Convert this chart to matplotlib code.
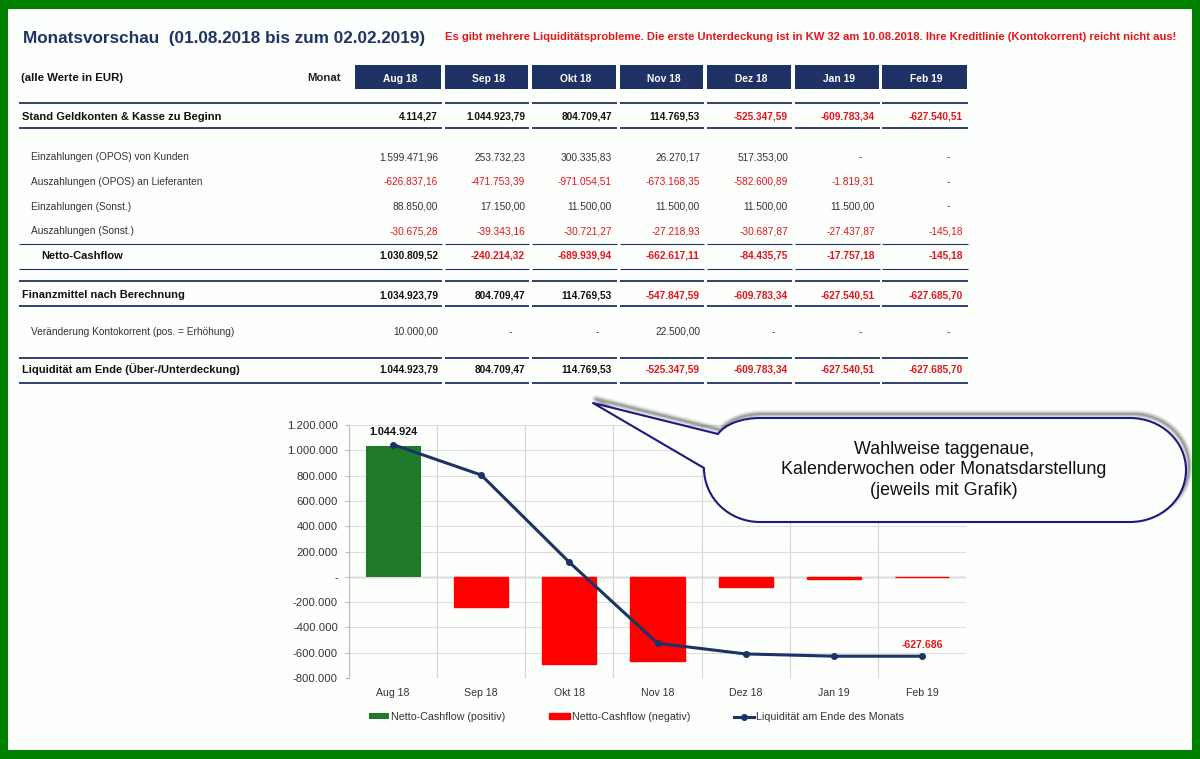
import matplotlib
matplotlib.use("Agg")
import matplotlib.pyplot as plt
from matplotlib.patches import Rectangle, PathPatch
from matplotlib.path import Path
from matplotlib.ticker import FuncFormatter

plt.rcParams['font.family'] = ['Liberation Sans', 'DejaVu Sans']

NAVY = '#1F3265'
RED = '#E8141C'
GREEN = '#008000'
NAN = float('nan')

months = ['Aug 18', 'Sep 18', 'Okt 18', 'Nov 18', 'Dez 18', 'Jan 19', 'Feb 19']
title = 'Monatsvorschau  (01.08.2018 bis zum 02.02.2019)'
warning = ('Es gibt mehrere Liquiditätsprobleme. Die erste Unterdeckung ist in KW 32 am 10.08.2018. '
           'Ihre Kreditlinie (Kontokorrent) reicht nicht aus!')
callout_text = 'Wahlweise taggenaue,\nKalenderwochen oder Monatsdarstellung\n(jeweils mit Grafik)'

row_labels = ['Stand Geldkonten & Kasse zu Beginn', 'Einzahlungen (OPOS) von Kunden',
              'Auszahlungen (OPOS) an Lieferanten', 'Einzahlungen (Sonst.)', 'Auszahlungen (Sonst.)',
              'Netto-Cashflow', 'Finanzmittel nach Berechnung', 'Veränderung Kontokorrent (pos. = Erhöhung)',
              'Liquidität am Ende (Über-/Unterdeckung)']
stand = ['4.114,27', '1.044.923,79', '804.709,47', '114.769,53', '-525.347,59', '-609.783,34', '-627.540,51']
einz_opos = ['1.599.471,96', '253.732,23', '300.335,83', '26.270,17', '517.353,00', '-', '-']
ausz_opos = ['-626.837,16', '-471.753,39', '-971.054,51', '-673.168,35', '-582.600,89', '-1.819,31', '-']
einz_sonst = ['88.850,00', '17.150,00', '11.500,00', '11.500,00', '11.500,00', '11.500,00', '-']
ausz_sonst = ['-30.675,28', '-39.343,16', '-30.721,27', '-27.218,93', '-30.687,87', '-27.437,87', '-145,18']
netto = ['1.030.809,52', '-240.214,32', '-689.939,94', '-662.617,11', '-84.435,75', '-17.757,18', '-145,18']
finanz = ['1.034.923,79', '804.709,47', '114.769,53', '-547.847,59', '-609.783,34', '-627.540,51', '-627.685,70']
kk = ['10.000,00', '-', '-', '22.500,00', '-', '-', '-']
ende = ['1.044.923,79', '804.709,47', '114.769,53', '-525.347,59', '-609.783,34', '-627.540,51', '-627.685,70']
rows = [stand, einz_opos, ausz_opos, einz_sonst, ausz_sonst, netto, finanz, kk, ende]

cf_pos = [1030809.52, NAN, NAN, NAN, NAN, NAN, NAN]
cf_neg = [NAN, -240214.32, -689939.94, -662617.11, -84435.75, -17757.18, -145.18]
liquiditaet = [1044923.79, 804709.47, 114769.53, -525347.59, -609783.34, -627540.51, -627685.70]

W, H = 1200, 759
fig = plt.figure(figsize=(12, 7.59), dpi=100, facecolor='#FCFFFC')

bg = fig.add_axes([0, 0, 1, 1], zorder=0)
bg.set_xlim(0, W); bg.set_ylim(H, 0); bg.axis('off')
top = fig.add_axes([0, 0, 1, 1], zorder=5)
top.set_xlim(0, W); top.set_ylim(H, 0); top.axis('off'); top.patch.set_alpha(0)

for x, y, w, h in [(0, 0, W, 9), (0, 750, W, 9), (0, 0, 8, H), (1192, 0, 8, H)]:
    bg.add_patch(Rectangle((x, y), w, h, color=GREEN, lw=0))

bg.text(23, 38.5, title, color=NAVY, fontsize=12.35, fontweight='bold', va='center')
bg.text(445, 37.5, warning, color=RED, fontsize=8.1, fontweight='bold', va='center')
bg.text(21, 78, '(alle Werte in EUR)', color='#111111', fontsize=8.2, fontweight='bold', va='center')
bg.text(341, 78, 'Monat', color='#222222', fontsize=8.2, fontweight='bold', va='center', ha='right')

col_left = [355, 445, 532, 620, 707, 795, 882]
col_right = [441, 528, 616, 703, 791, 879, 967]
num_right = [438, 525, 612, 700, 788, 875, 963]

for l, r, m in zip(col_left, col_right, months):
    bg.add_patch(Rectangle((l, 65), r - l, 24, color=NAVY, lw=0))
    bg.text((l + r) / 2 + 2, 78.5, m, color='white', fontsize=7.4, fontweight='bold', ha='center', va='center')

row_y = [119.5, 160.5, 185, 209.5, 234.5, 259, 298, 335, 373]
row_x = [22, 31, 31, 31, 31, 41, 22, 31, 22]
bold_rows = {0, 5, 6, 8}
for i, (y, x, lab, vals) in enumerate(zip(row_y, row_x, row_labels, rows)):
    b = i in bold_rows
    bg.text(x, y, lab, color='#111111' if b else '#333333', fontsize=8.05 if b else 7.3,
            fontweight='bold' if b else 'normal', va='baseline')
    for j, v in enumerate(vals):
        neg = v.startswith('-') and len(v) > 1
        col = RED if neg else ('#111111' if b else '#333333')
        xr = num_right[j] - (13 if v == '-' else 0)
        bg.text(xr, y, v, color=col, fontsize=7.25 if b else 7.3, fontweight='bold' if b else 'normal',
                ha='right', va='baseline')

rule_pairs = [102.5, 127.5, 281, 306, 357.5, 382.5]
col_rule_left = [19] + col_left[1:]
for y in rule_pairs:
    for l, r in zip(col_rule_left, col_right):
        bg.plot([l, r + 1], [y, y], color=NAVY, lw=1.3, solid_capstyle='butt')
for y in [243.5, 268.5]:
    for l, r in zip(col_rule_left, col_right):
        bg.plot([l, r + 1], [y, y], color=NAVY, lw=0.8, solid_capstyle='butt')

# chart
ax = fig.add_axes([349 / W, 1 - 678 / H, (966 - 349) / W, (678 - 425) / H], zorder=2)
ax.patch.set_alpha(0)
xs = list(range(len(months)))
ax.bar(xs, cf_pos, width=0.625, color='#1E7A28', label='Netto-Cashflow (positiv)', zorder=2)
ax.bar(xs, cf_neg, width=0.615, color='#FF0000', edgecolor='#FF0000', lw=1.0,
       label='Netto-Cashflow (negativ)', zorder=2)
ax.plot(xs, liquiditaet, color=NAVY, lw=2.2, marker='o', ms=4, label='Liquidität am Ende des Monats', zorder=3)
ax.set_xlim(-0.5, 6.5)
ax.set_ylim(-800000, 1200000)
ax.set_yticks(range(-800000, 1200001, 200000))
fmt = lambda v, _: '-' if v == 0 else f'{int(v):,}'.replace(',', '.')
ax.yaxis.set_major_formatter(FuncFormatter(fmt))
ax.set_xticks(xs, months)
ax.set_xticks([i - 0.5 for i in range(8)], minor=True)
ax.grid(True, axis='y', color='#DDDDDD', lw=0.8, zorder=0)
ax.grid(True, axis='x', which='minor', color='#D5D5D5', lw=0.8, zorder=0)
ax.tick_params(axis='x', which='major', length=0, labelsize=7.6, pad=7, colors='#333333')
ax.tick_params(axis='x', which='minor', length=0)
ax.tick_params(axis='y', length=3, labelsize=8.1, pad=5, colors='#333333', color='#BBBBBB')
for s in ['top', 'right', 'bottom']:
    ax.spines[s].set_visible(False)
ax.spines['left'].set_color('#BBBBBB')
ax.axhline(0, color='#AAAAAA', lw=1, zorder=1)
ax.annotate('1.044.924', (0, liquiditaet[0]), xytext=(0, 7), textcoords='offset points', ha='center',
            fontsize=7.8, fontweight='bold', color='#111111')
ax.annotate('-627.686', (6, liquiditaet[6]), xytext=(0, 6), textcoords='offset points', ha='center',
            fontsize=7.6, fontweight='bold', color=RED)
handles, labels = ax.get_legend_handles_labels()
order = [labels.index(t) for t in ['Netto-Cashflow (positiv)', 'Netto-Cashflow (negativ)',
                                   'Liquidität am Ende des Monats']]
fig.legend([handles[i] for i in order], [labels[i] for i in order], loc='center', ncol=3, frameon=False,
           fontsize=7.7, bbox_to_anchor=(636.5 / W, 1 - 717 / H), columnspacing=4.1, handlelength=1.9,
           handletextpad=0.2, labelcolor='#333333', handleheight=0.4)

# callout
verts = [(593, 403), (718, 434), (725, 424), (742, 418), (760, 418), (1130, 418),
         (1161, 418), (1186, 441), (1186, 470), (1186, 499), (1161, 522), (1130, 522),
         (760, 522), (729, 522), (704, 498), (704, 468), (593, 403)]
codes = [Path.MOVETO, Path.LINETO, Path.CURVE4, Path.CURVE4, Path.CURVE4, Path.LINETO,
         Path.CURVE4, Path.CURVE4, Path.CURVE4, Path.CURVE4, Path.CURVE4, Path.CURVE4,
         Path.LINETO, Path.CURVE4, Path.CURVE4, Path.CURVE4, Path.CLOSEPOLY]
path = Path(verts, codes)
sh = Path([(vx + 3, vy - 4) for vx, vy in verts], codes)
for lw, a in [(6, 0.06), (4.5, 0.1), (3, 0.16), (1.5, 0.24)]:
    top.add_patch(PathPatch(sh, facecolor='none', edgecolor='#333333', lw=lw, alpha=a, joinstyle='round'))
top.add_patch(PathPatch(path, facecolor='#FCFFFC', edgecolor='#1A1A80', lw=1.5, joinstyle='round'))
top.text(944, 470, callout_text, fontsize=12.9, color='#111111', ha='center', va='center', linespacing=1.25)

fig.savefig('out.png', dpi=100, facecolor=fig.get_facecolor())
